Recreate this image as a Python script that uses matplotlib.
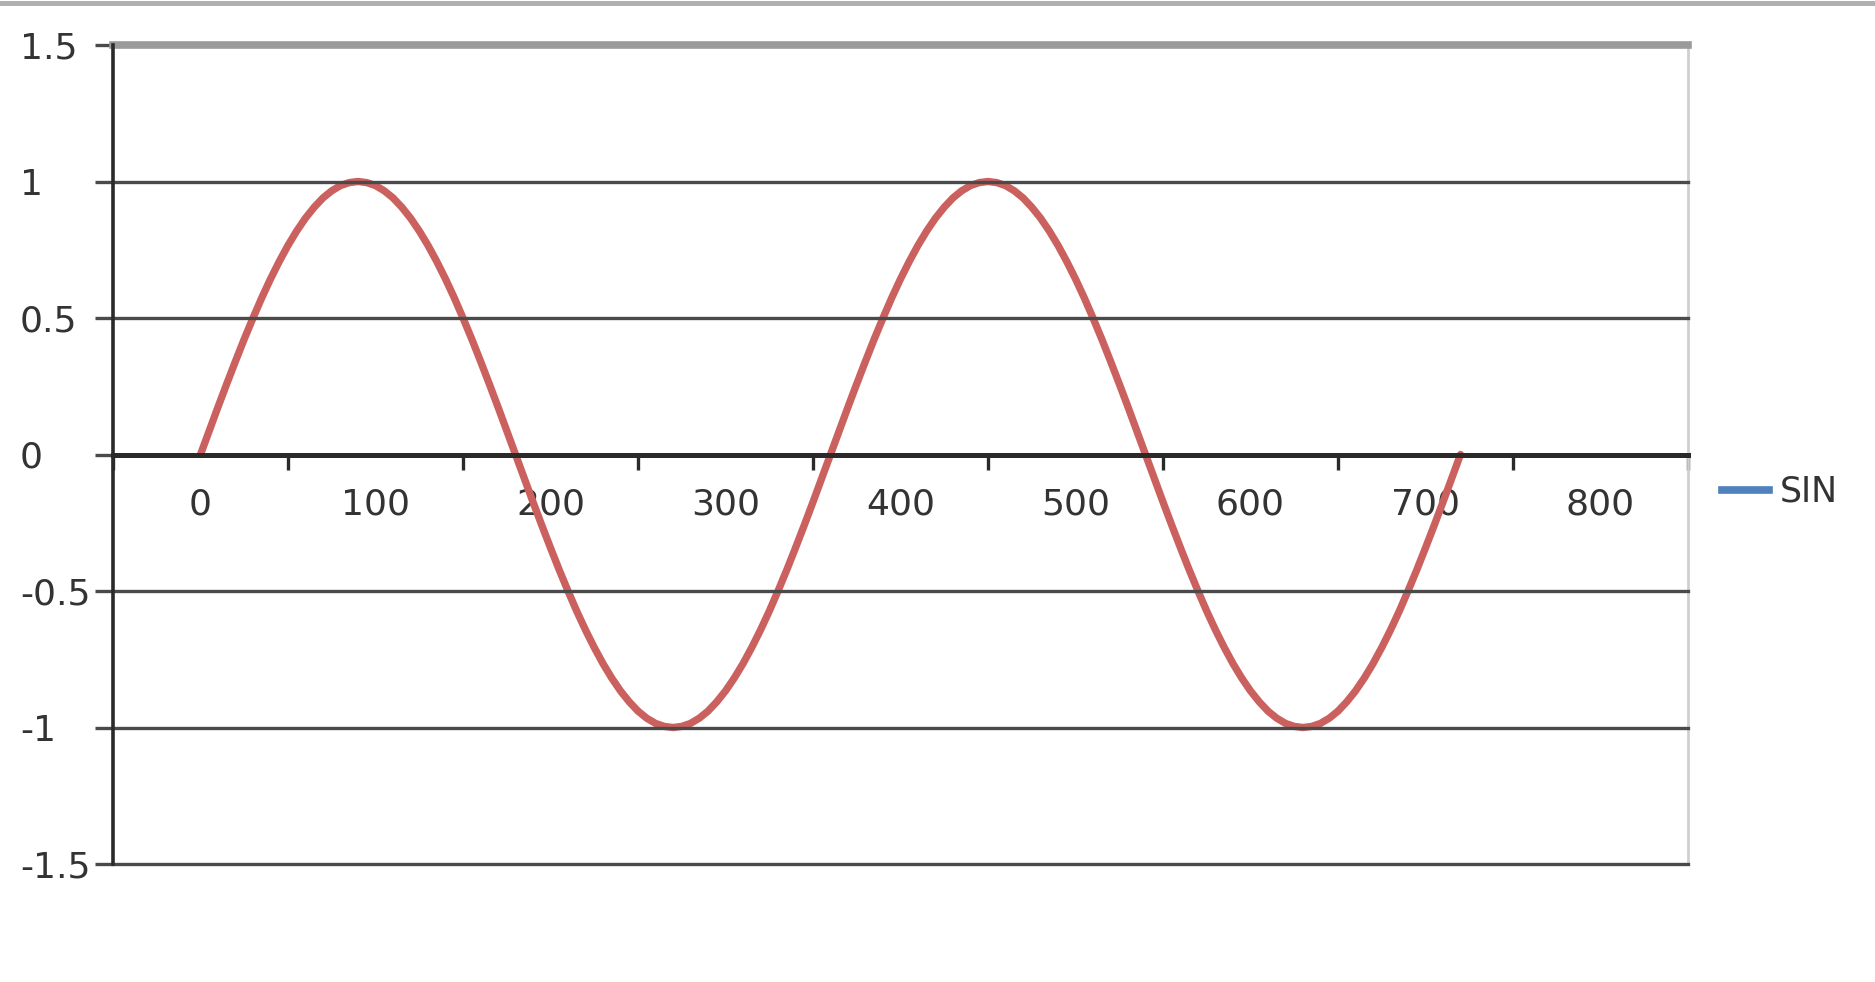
import matplotlib
matplotlib.use("Agg")
import matplotlib.pyplot as plt
from matplotlib.lines import Line2D

# Data (degrees vs SIN value)
x_deg = [0, 5, 10, 15, 20, 25, 30, 35, 40, 45, 50, 55, 60, 65, 70, 75, 80, 85, 90,
         95, 100, 105, 110, 115, 120, 125, 130, 135, 140, 145, 150, 155, 160, 165, 170, 175, 180,
         185, 190, 195, 200, 205, 210, 215, 220, 225, 230, 235, 240, 245, 250, 255, 260, 265, 270,
         275, 280, 285, 290, 295, 300, 305, 310, 315, 320, 325, 330, 335, 340, 345, 350, 355, 360,
         365, 370, 375, 380, 385, 390, 395, 400, 405, 410, 415, 420, 425, 430, 435, 440, 445, 450,
         455, 460, 465, 470, 475, 480, 485, 490, 495, 500, 505, 510, 515, 520, 525, 530, 535, 540,
         545, 550, 555, 560, 565, 570, 575, 580, 585, 590, 595, 600, 605, 610, 615, 620, 625, 630,
         635, 640, 645, 650, 655, 660, 665, 670, 675, 680, 685, 690, 695, 700, 705, 710, 715, 720]
sin_vals = [0.0, 0.087, 0.174, 0.259, 0.342, 0.423, 0.5, 0.574, 0.643, 0.707, 0.766, 0.819, 0.866, 0.906, 0.94, 0.966, 0.985, 0.996, 1.0,
            0.996, 0.985, 0.966, 0.94, 0.906, 0.866, 0.819, 0.766, 0.707, 0.643, 0.574, 0.5, 0.423, 0.342, 0.259, 0.174, 0.087, 0.0,
            -0.087, -0.174, -0.259, -0.342, -0.423, -0.5, -0.574, -0.643, -0.707, -0.766, -0.819, -0.866, -0.906, -0.94, -0.966, -0.985, -0.996, -1.0,
            -0.996, -0.985, -0.966, -0.94, -0.906, -0.866, -0.819, -0.766, -0.707, -0.643, -0.574, -0.5, -0.423, -0.342, -0.259, -0.174, -0.087, 0.0,
            0.087, 0.174, 0.259, 0.342, 0.423, 0.5, 0.574, 0.643, 0.707, 0.766, 0.819, 0.866, 0.906, 0.94, 0.966, 0.985, 0.996, 1.0,
            0.996, 0.985, 0.966, 0.94, 0.906, 0.866, 0.819, 0.766, 0.707, 0.643, 0.574, 0.5, 0.423, 0.342, 0.259, 0.174, 0.087, 0.0,
            -0.087, -0.174, -0.259, -0.342, -0.423, -0.5, -0.574, -0.643, -0.707, -0.766, -0.819, -0.866, -0.906, -0.94, -0.966, -0.985, -0.996, -1.0,
            -0.996, -0.985, -0.966, -0.94, -0.906, -0.866, -0.819, -0.766, -0.707, -0.643, -0.574, -0.5, -0.423, -0.342, -0.259, -0.174, -0.087, 0.0]
series_name = "SIN"
x_labels = [0, 100, 200, 300, 400, 500, 600, 700, 800]
x_tickmarks = [-50, 50, 150, 250, 350, 450, 550, 650, 750, 850]
y_ticks = [-1.5, -1, -0.5, 0, 0.5, 1, 1.5]
y_labels = ["-1.5", "-1", "-0.5", "0", "0.5", "1", "1.5"]

W, H, DPI = 1875, 982, 100
fig = plt.figure(figsize=(W / DPI, H / DPI), dpi=DPI)
fig.patch.set_facecolor("white")

# thin gray bar across the very top
fig.add_artist(Line2D([0, 1], [1 - 2.5 / H, 1 - 2.5 / H], transform=fig.transFigure,
                      color="#b0b0b0", lw=3.6))

left, right = 113 / W, 1688 / W
bottom, top = 1 - 864 / H, 1 - 45 / H
ax = fig.add_axes([left, bottom, right - left, top - bottom])
ax.set_xlim(-50, 850)
ax.set_ylim(-1.5, 1.5)

txt_color = "#333333"
font = "DejaVu Sans"
fs = 26

# horizontal gridlines
for yv in y_ticks:
    if yv == 1.5:
        ax.axhline(yv, color="#9a9a9a", lw=5.5, zorder=3, clip_on=False)
    elif yv == 0:
        continue
    else:
        ax.axhline(yv, color="#4a4a4a", lw=2.4, zorder=3, clip_on=False)

# data curve (drawn under the gridlines)
ax.plot(x_deg, sin_vals, color="#cb615f", lw=5.3, zorder=2,
        solid_capstyle="round", solid_joinstyle="round")

# spines
for s in ["top", "right", "bottom", "left"]:
    ax.spines[s].set_visible(False)
ax.spines["left"].set_visible(True)
ax.spines["left"].set_color("#2a2a2a")
ax.spines["left"].set_linewidth(2.6)
ax.spines["left"].set_zorder(4)
ax.spines["right"].set_visible(True)
ax.spines["right"].set_color("#cfcfcf")
ax.spines["right"].set_linewidth(2.0)
ax.spines["bottom"].set_visible(True)
ax.spines["bottom"].set_position(("data", 0))
ax.spines["bottom"].set_color("#2a2a2a")
ax.spines["bottom"].set_linewidth(3.6)
ax.spines["bottom"].set_zorder(4)

# x axis: tick marks between labels, labels as minor ticks
ax.set_xticks(x_tickmarks)
ax.set_xticklabels([""] * len(x_tickmarks))
ax.tick_params(axis="x", which="major", direction="out", length=11, width=2.4, color="#2a2a2a")
ax.set_xticks(x_labels, minor=True)
ax.set_xticklabels([str(v) for v in x_labels], minor=True, fontsize=fs, color=txt_color, family=font)
ax.tick_params(axis="x", which="minor", length=0, pad=24)

# y axis
ax.set_yticks(y_ticks)
ax.set_yticklabels(y_labels, fontsize=fs, color=txt_color, family=font)
ax.tick_params(axis="y", which="major", direction="out", length=13, width=2.4, color="#4a4a4a", pad=54)
for lab in ax.get_yticklabels():
    lab.set_horizontalalignment("left")

# legend
handle = Line2D([], [], color="#4f81bd", lw=5.5)
leg = fig.legend([handle], [series_name], loc="center left",
                 bbox_to_anchor=(1722 / W, 1 - 492 / H), frameon=False,
                 handlelength=1.35, handletextpad=0.3, borderaxespad=0, borderpad=0,
                 prop={"family": font, "size": 25})
for t in leg.get_texts():
    t.set_color(txt_color)

fig.savefig("out.png", dpi=DPI, facecolor="white")
